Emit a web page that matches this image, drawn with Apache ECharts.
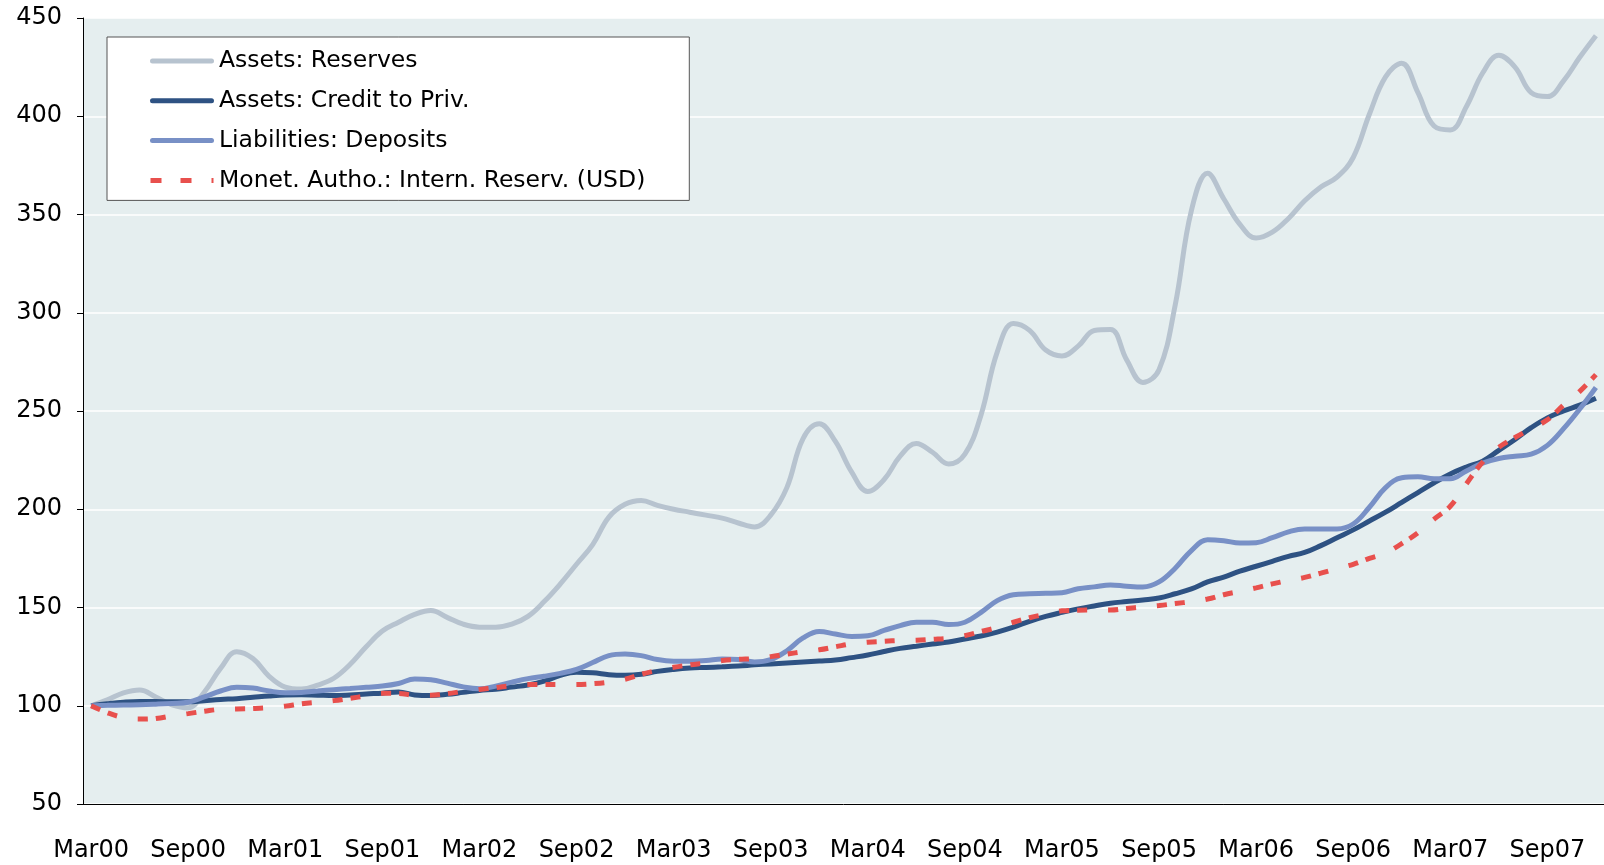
<!DOCTYPE html>
<html>
<head>
<meta charset="utf-8">
<script src="https://cdn.jsdelivr.net/npm/echarts@6/dist/echarts.min.js"></script>
<style>
  html, body { margin: 0; padding: 0; background: #fff; }
  #chart { width: 1604px; height: 865px; }
</style>
</head>
<body>
<div id="chart"></div>
<script>
// months Mar00 .. Dec07
var months = [];
(function () {
    var names = ['Jan', 'Feb', 'Mar', 'Apr', 'May', 'Jun', 'Jul', 'Aug', 'Sep', 'Oct', 'Nov', 'Dec'];
    for (var y = 0; y <= 7; y++) {
        for (var m = 0; m < 12; m++) {
            if (y === 0 && m < 2) continue;
            months.push(names[m] + '0' + y);
        }
    }
})();

var reserves = [
    100, 103, 106.5, 108, 104.5, 100.5, 99, 107, 119, 127.5, 124, 115,
    109.5, 108.5, 110.5, 114, 121, 130, 138, 142.5, 146.5, 148.5, 145, 141.5,
    140, 140, 141.5, 145.5, 153, 162, 172, 182, 196, 202.5, 204.5, 202,
    200, 198.5, 197, 195.5, 193, 191, 197, 211, 236, 243.5, 234.5, 219,
    209, 215, 227, 233.5, 229, 223, 228, 248, 280, 294.5, 291, 281,
    278, 283, 291, 291.5, 276, 264.5, 271, 304, 352, 371, 358, 345,
    338, 341, 348, 357, 364, 369, 379, 401, 420, 427, 412, 395,
    393, 405, 422, 431, 425, 412, 410, 418, 430, 441
];

var credit = [
    100, 101, 101.8, 102.2, 102.2, 102, 102, 102.6, 103.2, 103.6, 104.3, 105,
    105.5, 105.6, 105.4, 105.2, 105.5, 106, 106.4, 107, 105.5, 105.2, 105.8, 106.8,
    107.8, 108.4, 109.5, 110.6, 112.5, 115.5, 117, 116.8, 115.8, 115.5, 116, 117.5,
    118.5, 119.2, 119.5, 119.8, 120.2, 120.8, 121.3, 121.8, 122.3, 122.8, 123.3, 124.5,
    125.8, 127.6, 129.2, 130.3, 131.4, 132.4, 134, 135.5, 137.5, 140, 143, 145.5,
    147.5, 149.3, 150.8, 152.2, 153, 153.8, 154.8, 157, 159.5, 163, 165.5, 168.5,
    171, 173.5, 176, 178, 181.5, 185.5, 189.5, 194, 198.5, 203.5, 208.5, 213.5,
    218, 221.5, 224.5, 230, 235.5, 241.5, 246.5, 250, 253, 256.5
];

var deposits = [
    100, 100.2, 100.4, 100.5, 100.8, 101.2, 101.8, 104.5, 107.5, 109.4, 109, 107.5,
    106.6, 106.8, 107.5, 108.2, 108.8, 109.4, 110, 111.3, 113.6, 113.2, 111.5, 109.6,
    108.7, 110, 112, 113.8, 115, 116.5, 118.5, 122, 125.5, 126.3, 125.5, 123.5,
    122.7, 122.7, 123, 123.8, 123.5, 122.3, 123.5, 128, 134.5, 137.8, 136.5, 135.3,
    135.6, 138.3, 140.8, 142.5, 142.5, 141.3, 142.5, 147.5, 153.5, 156.5, 157, 157.2,
    157.5, 159.5, 160.5, 161.5, 160.8, 160.4, 163, 170, 179, 184.5, 184, 182.8,
    183, 185.5, 188.5, 190, 190, 190, 192.5, 201, 211, 216, 216.5, 215.5,
    215.5, 219.5, 223.5, 225.8, 227, 228, 232.5, 241, 251, 262
];

var intReserves = [
    100, 96.5, 94, 93.2, 93.5, 94.8, 96, 97.2, 98.2, 98.4, 98.6, 99,
    99.8, 101, 101.8, 102.6, 103.8, 105, 106.3, 106.3, 105.4, 105.4, 106.2, 107.3,
    108.3, 109.2, 110.2, 110.8, 110.8, 110.8, 110.8, 111.2, 112, 113.5, 116, 118,
    119.6, 120.8, 121.8, 123, 123.6, 124, 125, 126.3, 127.5, 128.5, 130, 131.5,
    132.3, 132.8, 133.2, 133.3, 133.8, 134.4, 135.7, 137.8, 139.8, 142.5, 144.8, 146.6,
    148.3, 148.6, 148.7, 148.7, 149.5, 150.3, 151, 152, 153, 154.3, 156.5, 158.2,
    160, 162, 163.8, 165.3, 167.5, 169.8, 172, 175, 177.7, 182.5, 188, 195,
    201.5, 213, 224, 231.5, 236.5, 241, 245.5, 253, 260, 268.5
];

var names = ['Assets: Reserves', 'Assets: Credit to Priv.', 'Liabilities: Deposits', 'Monet. Autho.: Intern. Reserv. (USD)'];

(function () {
    var myChart = echarts.init(document.getElementById('chart'));
    var font = "'DejaVu Sans', sans-serif";
    var solidIcon = 'path://M2.5,0H61.5A2.5,2.5,0,0,1,61.5,5H2.5A2.5,2.5,0,0,1,2.5,0Z';
    var dashIcon = 'path://M0,0H11V5H0Z M30,0H41V5H30Z M61,0H63V5H61Z';
    myChart.setOption({
        animation: false,
        color: ['#B7C3CF', '#2E5283', '#7890C6', '#E8504D'],
        legend: {
            orient: 'vertical',
            left: 107,
            top: 37,
            backgroundColor: '#fff',
            borderColor: '#555',
            borderWidth: 1,
            borderRadius: 0,
            padding: [11, 44, 7, 43],
            itemWidth: 64,
            itemHeight: 5,
            itemGap: 13.8,
            textStyle: {
                fontFamily: font,
                fontSize: 23.5,
                color: '#000',
                lineHeight: 26
            },
            data: [
                { name: names[0], icon: solidIcon },
                { name: names[1], icon: solidIcon },
                { name: names[2], icon: solidIcon },
                { name: names[3], icon: dashIcon }
            ]
        },
        grid: {
            left: 83,
            top: 18,
            width: 1528,
            bottom: 61,
            show: true,
            backgroundColor: '#E5EEEF',
            borderWidth: 0
        },
        xAxis: {
            type: 'category',
            data: months,
            boundaryGap: true,
            axisLine: { lineStyle: { color: '#000', width: 1 } },
            axisTick: {
                interval: 5,
                length: 8,
                lineStyle: { color: '#777', width: 1.5 }
            },
            axisLabel: {
                interval: 5,
                margin: 35,
                color: '#000',
                fontFamily: font,
                fontSize: 24
            },
            splitLine: { show: false }
        },
        yAxis: {
            type: 'value',
            min: 50,
            max: 450,
            interval: 50,
            axisLine: { show: true, lineStyle: { color: '#000', width: 1 } },
            axisTick: { show: true, length: 6, lineStyle: { color: '#000' } },
            axisLabel: {
                margin: 21,
                color: '#000',
                fontFamily: font,
                fontSize: 24
            },
            splitLine: { lineStyle: { color: '#fff', width: 1.5 } }
        },
        series: [{
            name: names[0],
            type: 'line',
            data: reserves,
            symbol: 'none',
            smooth: 0.4,
            lineStyle: { width: 5 }
        }, {
            name: names[1],
            type: 'line',
            data: credit,
            symbol: 'none',
            smooth: 0.4,
            lineStyle: { width: 5 }
        }, {
            name: names[2],
            type: 'line',
            data: deposits,
            symbol: 'none',
            smooth: 0.4,
            lineStyle: { width: 5 }
        }, {
            name: names[3],
            type: 'line',
            data: intReserves,
            symbol: 'none',
            smooth: 0.4,
            lineStyle: { width: 5, type: [10, 8, 10, 21], cap: 'butt' }
        }]
    });
})();
</script>
</body>
</html>
